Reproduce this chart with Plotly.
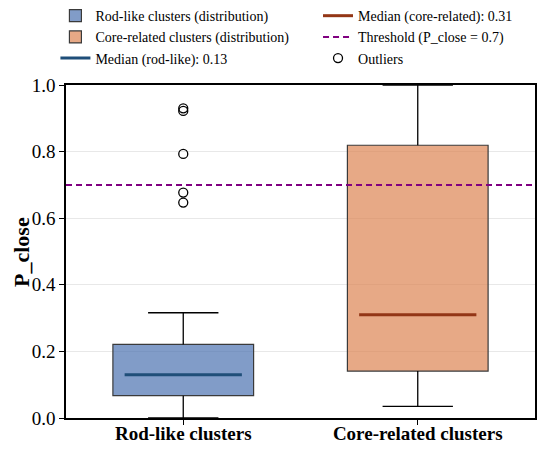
import plotly.graph_objects as go

# ---- data ----
categories = ["Rod-like clusters", "Core-related clusters"]
positions = [0, 1]
q1 = [0.067, 0.141]
median = [0.13, 0.31]
q3 = [0.221, 0.819]
whisker_low = [0.0, 0.035]
whisker_high = [0.316, 1.0]
rod_outliers = [0.930, 0.922, 0.793, 0.677, 0.647]
threshold = 0.7

box_names = ["Rod-like clusters (distribution)", "Core-related clusters (distribution)"]
median_names = [f"Median (rod-like): {median[0]:.2f}", f"Median (core-related): {median[1]:.2f}"]

# ---- style ----
fills = ["rgba(76,114,176,0.7)", "rgba(221,132,82,0.7)"]
median_colors = ["#1f4e79", "#933616"]
box_w = 0.6
cap_half = 0.15
med_half = 0.25
FONT = "Liberation Serif, Times New Roman, serif"

fig = go.Figure()

# boxes
for i in range(2):
    fig.add_trace(go.Bar(
        x=[positions[i]], y=[q3[i] - q1[i]], base=[q1[i]], width=box_w,
        marker=dict(color=fills[i], line=dict(color="#3a3a3a", width=1.2)),
        name=box_names[i], legend="legend", legendgroup=f"b{i}",
        showlegend=True, hoverinfo="skip"))

# whiskers + caps
for i in range(2):
    p = positions[i]
    fig.add_trace(go.Scatter(
        x=[p, p, None, p, p, None, p - cap_half, p + cap_half, None, p - cap_half, p + cap_half],
        y=[q3[i], whisker_high[i], None, q1[i], whisker_low[i], None,
           whisker_high[i], whisker_high[i], None, whisker_low[i], whisker_low[i]],
        mode="lines", line=dict(color="black", width=1.3), showlegend=False,
        hoverinfo="skip", cliponaxis=True))

# medians
fig.add_trace(go.Scatter(
    x=[positions[0] - med_half, positions[0] + med_half], y=[median[0], median[0]],
    mode="lines", line=dict(color=median_colors[0], width=3),
    name=median_names[0], legend="legend", legendgroup="m0"))
fig.add_trace(go.Scatter(
    x=[positions[1] - med_half, positions[1] + med_half], y=[median[1], median[1]],
    mode="lines", line=dict(color=median_colors[1], width=3),
    name=median_names[1], legend="legend2", legendgroup="m1"))

# threshold
fig.add_trace(go.Scatter(
    x=[-0.5, 1.5], y=[threshold, threshold], mode="lines",
    line=dict(color="#800080", width=2, dash="6px,4px"),
    name=f"Threshold (P_close = {threshold})", legend="legend2", legendgroup="t"))

# outliers
fig.add_trace(go.Scatter(
    x=[positions[0]] * len(rod_outliers), y=rod_outliers, mode="markers",
    marker=dict(symbol="circle-open", size=9, color="black", line=dict(width=1.3)),
    name="Outliers", legend="legend2", legendgroup="o"))

legend_common = dict(font=dict(family=FONT, size=14, color="black"),
                     bgcolor="rgba(0,0,0,0)", yanchor="top", xanchor="left",
                     xref="container", yref="paper",
                     orientation="v", traceorder="grouped", tracegroupgap=0)

# the page body has an 8px margin, so the figure is sized 542x442
fig.update_layout(
    width=542, height=442,
    margin=dict(l=58, r=15, t=77, b=32, autoexpand=False),
    plot_bgcolor="white", paper_bgcolor="white",
    font=dict(family=FONT, color="black"),
    barmode="overlay",
    legend=dict(x=0.0875, y=1.255, **legend_common),
    legend2=dict(x=0.572, y=1.255, **legend_common),
    xaxis=dict(range=[-0.5, 1.5], tickvals=positions, ticktext=categories,
               tickfont=dict(family=FONT, size=19, weight="bold"),
               ticks="outside", ticklen=5, tickcolor="black", ticklabelstandoff=-8,
               showline=True, linecolor="black", linewidth=1.5, mirror=True,
               showgrid=False, zeroline=False),
    yaxis=dict(range=[0, 1], tickvals=[0, 0.2, 0.4, 0.6, 0.8, 1.0], tickformat=".1f",
               tickfont=dict(family=FONT, size=19),
               ticks="outside", ticklen=5, tickcolor="black",
               showline=True, linecolor="black", linewidth=1.5, mirror=True,
               showgrid=True, gridcolor="#e8e8e8", gridwidth=1, zeroline=False),
    annotations=[dict(text="<b>P_close</b>", xref="paper", yref="paper",
                      x=-0.0949, y=0.5, xanchor="center", yanchor="middle",
                      textangle=-90, showarrow=False,
                      font=dict(family=FONT, size=22, color="black"))],
)

fig.write_html("out.html")
